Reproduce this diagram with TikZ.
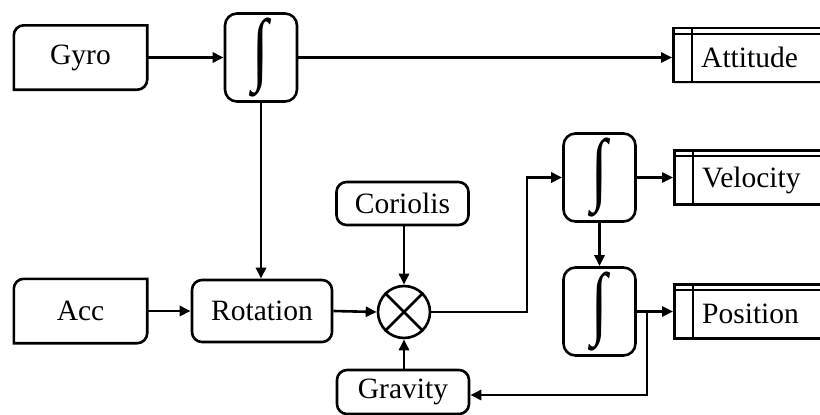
\documentclass[tikz,border=0pt]{standalone}
\usepackage{fontspec}
\setmainfont{Liberation Serif}
\usetikzlibrary{arrows.meta,shadows}
\tikzset{
  lw/.style={line width=2.6pt},
  blk/.style={lw, draw, rectangle, rounded corners=10pt, inner sep=0pt, font=\fontsize{29.5}{32}\selectfont},
  card/.style={inner sep=0pt, minimum width=133pt, minimum height=64pt, font=\fontsize{29.5}{32}\selectfont},
  integ/.style={blk, rounded corners=12pt, minimum width=72pt, minimum height=88pt},
  store/.style={lw, draw, fill=white, rectangle, inner sep=0pt, minimum width=200pt, minimum height=54pt, anchor=west,
    drop shadow={opacity=0.25, shadow xshift=1pt, shadow yshift=-1.5pt}},
  lbl/.style={anchor=west, inner sep=0pt, font=\fontsize{29.5}{32}\selectfont},
  conn/.style={lw, -{Triangle[length=11pt,width=10pt]}},
  wire/.style={lw}
}
\newcommand{\myint}{\scalebox{0.95}[1.3]{\fontsize{62}{62}\selectfont ∫}}
\begin{document}
\begin{tikzpicture}[x=1pt,y=-1pt]
\useasboundingbox (0,0) rectangle (820,415);
\clip (0,0) rectangle (820,415);
% card-shaped input boxes
\node[card] (gyro) at (80.5,57.5) {Gyro};
\node[card] (acc) at (80.5,311) {Acc};
\foreach \n in {gyro,acc}{
  \draw[lw] (\n.south west) -- ([yshift=-10pt]\n.north west) arc[start angle=180,end angle=90,radius=10pt]
    -- (\n.north east) -- ([yshift=10pt]\n.south east) arc[start angle=0,end angle=-90,radius=10pt] -- cycle;
}
% integrators
\node[integ] (int1) at (261,57.5) {\myint};
\node[integ] (int2) at (599.5,177.5) {\myint};
\node[integ] (int3) at (599.5,311.5) {\myint};
% blocks
\node[blk, minimum width=140pt, minimum height=62pt] (rot) at (262,311) {Rotation};
\node[blk, minimum width=132pt, minimum height=43pt] (cor) at (402.5,203.5) {Coriolis};
\node[blk, minimum width=132pt, minimum height=44pt] (grav) at (403,392) {Gravity};
\node[lw, draw, circle, minimum size=52pt, inner sep=0pt] (mult) at (404,312) {};
\draw[lw] (mult.north west) -- (mult.south east) (mult.north east) -- (mult.south west);
% stores
\node[store] (att) at (672,55) {};
\node[store] (vel) at (673,177.5) {};
\node[store] (pos) at (673,311.5) {};
\foreach \n in {att,vel,pos}{
  \draw[line width=2.2pt] ([yshift=-7pt]\n.north west) -- ([yshift=-7pt]\n.north east);
  \draw[line width=2.2pt] ([xshift=20pt]\n.north west) -- ([xshift=20pt]\n.south west);
}
\node[lbl] at (701,57) {Attitude};
\node[lbl] at (702,180) {Velocity};
\node[lbl] at (702,314) {Position};
% connectors
\draw[conn] (gyro.east) -- (int1.west);
\draw[conn] (int1.east) -- (int1.east -| att.west);
\draw[conn] (int1.south) -- (int1.south |- rot.north);
\draw[conn] (acc.east) -- (rot.west);
\draw[conn] (rot.east) -- (mult.west);
\draw[conn] (cor.south -| mult.north) -- (mult.north);
\draw[conn] (grav.north -| mult.south) -- (mult.south);
\coordinate (m1) at (527,312);
\draw[conn] (mult.east) -- (m1) |- (int2.west);
\draw[conn] (int2.east) -- (int2.east -| vel.west);
\draw[conn] (int2.south) -- (int3.north);
\draw[conn] (int3.east) -- (int3.east -| pos.west);
\coordinate (b1) at (647,311.5);
\coordinate (b2) at (647,395);
\draw[conn] (b1) -- (b2) -- (b2 -| grav.east);
\end{tikzpicture}
\end{document}
